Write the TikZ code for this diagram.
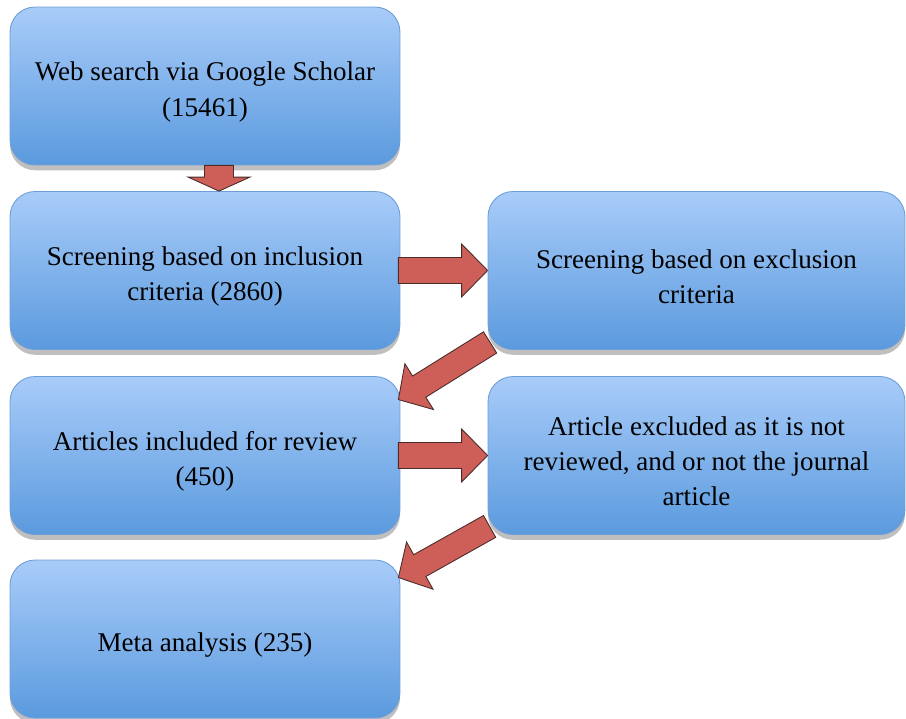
\documentclass[tikz,border=0pt]{standalone}
\usepackage{fontspec}
\setmainfont{Liberation Serif}
\usetikzlibrary{calc,shadows}
\definecolor{boxtop}{HTML}{A8CCF9}
\definecolor{boxbot}{HTML}{5B9ADE}
\definecolor{boxline}{HTML}{6E9ED6}
\definecolor{arrfill}{HTML}{CD5F58}
\definecolor{arrline}{HTML}{4A2C2A}
\newcommand{\tp}{\rule{0pt}{17.5pt}}
\newcommand{\blockarrow}[5]{%
  \coordinate (hb) at ($(#2)!#5!(#1)$);
  \draw[blockarr] ($(#1)!#3!90:(#2)$) -- ($(hb)!#3!90:(#2)$) -- ($(hb)!#4!90:(#2)$)
    -- (#2) -- ($(hb)!#4!-90:(#2)$) -- ($(hb)!#3!-90:(#2)$) -- ($(#1)!#3!-90:(#2)$) -- cycle;}
\begin{document}
\begin{tikzpicture}[x=0.02cm,y=0.02cm,
  flowbox/.style={rectangle, rounded corners=0.5cm, draw=boxline, line width=0.5pt,
    top color=boxtop, bottom color=boxbot, minimum height=3.16cm,
    align=center, font=\fontsize{15.4}{20}\selectfont, inner sep=2pt,
    drop shadow={shadow xshift=0pt, shadow yshift=-3pt, opacity=0.25, fill=black}},
  leftbox/.style={flowbox, minimum width=7.8cm},
  rightbox/.style={flowbox, minimum width=8.34cm},
  blockarr/.style={fill=arrfill, draw=arrline, line width=0.5pt, line join=miter}]
\useasboundingbox (0,0) rectangle (906,718);
\node[leftbox] (b1) at (205,632) {\tp Web search via Google Scholar\\(15461)};
\node[leftbox] (b2) at (205,447.5) {\tp Screening based on inclusion\\criteria (2860)};
\node[rightbox] (b3) at (696.5,447.5) {\tp Screening based on exclusion\\criteria};
\node[leftbox] (b4) at (205,262.5) {\tp Articles included for review\\(450)};
\node[rightbox] (b5) at (696.5,262.5) {\tp Article excluded as it is not\\reviewed, and or not the journal\\article};
\node[leftbox] (b6) at (205,79) {\tp Meta analysis (235)};
% arrow end points
\coordinate (a1t) at ($(b1.south)+(14,0)$);
\coordinate (a1h) at ($(b2.north)+(14,0)$);
\coordinate (a2t) at ($(b2.east)+(-2,0)$);
\coordinate (a2h) at (b3.west);
\coordinate (a3t) at ($(b4.east)+(-2,0)$);
\coordinate (a3h) at (b5.west);
\coordinate (a4t) at ($(b3.south west)+(2.5,7.5)$);
\coordinate (a4h) at ($(b4.north east)+(-2,-23.5)$);
\coordinate (a5t) at ($(b5.south west)+(2,8.5)$);
\coordinate (a5h) at ($(b6.north east)+(-2,-18)$);
\blockarrow{a1t}{a1h}{0.29cm}{0.62cm}{0.28cm}
\blockarrow{a2t}{a2h}{0.26cm}{0.53cm}{0.52cm}
\blockarrow{a3t}{a3h}{0.26cm}{0.53cm}{0.52cm}
\blockarrow{a4t}{a4h}{0.25cm}{0.54cm}{0.49cm}
\blockarrow{a5t}{a5h}{0.25cm}{0.54cm}{0.49cm}
\end{tikzpicture}
\end{document}
